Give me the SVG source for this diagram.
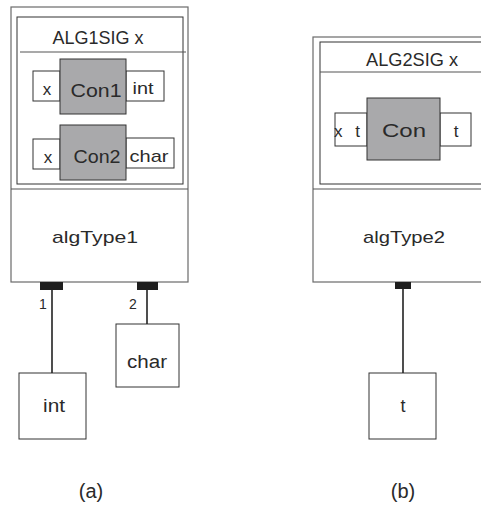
<svg xmlns="http://www.w3.org/2000/svg" width="481" height="507" viewBox="0 0 481 507">
  <style>
    .frame { fill: #ffffff; stroke: #6a6a6a; stroke-width: 1.2; }
    .box { fill: #ffffff; stroke: #333333; stroke-width: 1; }
    .con { fill: #a9a9ab; stroke: #333333; stroke-width: 1; }
    .rule { stroke: #555555; stroke-width: 1.2; fill: none; }
    .wire { stroke: #222222; stroke-width: 1.6; fill: none; }
    .stub { fill: #1e1e1e; }
    text { font-family: "Liberation Sans", "DejaVu Sans", Arial, sans-serif; fill: #2a2a2a; text-anchor: middle; }
    .t20 { font-size: 20px; }
    .t18 { font-size: 18px; }
    .t19 { font-size: 19px; }
    .t17 { font-size: 17px; }
    .t14 { font-size: 14px; }
  </style>
  <rect width="481" height="507" fill="#ffffff"/>

  <!-- (a) algebraic type with two constructors -->
  <g id="algType1">
    <rect class="frame" x="11" y="7" width="177" height="275"/>
    <line class="rule" x1="11" y1="189" x2="188" y2="189"/>
    <text class="t17" x="95" y="243" textLength="86" lengthAdjust="spacingAndGlyphs">algType1</text>
  </g>
  <g id="alg1sig">
    <rect class="box" x="17" y="17" width="166" height="167"/>
    <line class="rule" x1="20" y1="52" x2="186" y2="52"/>
    <text class="t18" x="98" y="44" textLength="91" lengthAdjust="spacingAndGlyphs">ALG1SIG x</text>
  </g>
  <g id="con1">
    <rect class="box" x="33" y="71" width="27" height="30"/>
    <rect class="box" x="126" y="71" width="38" height="30"/>
    <rect class="con" x="60" y="59" width="66" height="55"/>
    <text class="t17" x="47" y="95">x</text>
    <text class="t19" x="96" y="97" textLength="51" lengthAdjust="spacingAndGlyphs">Con1</text>
    <text class="t17" x="143" y="94" textLength="21" lengthAdjust="spacingAndGlyphs">int</text>
  </g>
  <g id="con2">
    <rect class="box" x="33" y="139" width="27" height="30"/>
    <rect class="box" x="126" y="138" width="48" height="30"/>
    <rect class="con" x="60" y="125" width="66" height="55"/>
    <text class="t17" x="48" y="163">x</text>
    <text class="t19" x="97" y="163" textLength="47" lengthAdjust="spacingAndGlyphs">Con2</text>
    <text class="t17" x="149" y="162" textLength="39" lengthAdjust="spacingAndGlyphs">char</text>
  </g>
  <g id="int">
    <rect class="box" x="19" y="373" width="67" height="66"/>
    <text class="t18" x="54" y="412" textLength="22" lengthAdjust="spacingAndGlyphs">int</text>
  </g>
  <g id="char">
    <rect class="box" x="116" y="324" width="63" height="63"/>
    <text class="t18" x="147" y="368" textLength="40" lengthAdjust="spacingAndGlyphs">char</text>
  </g>
  <text class="t20" x="91" y="498">(a)</text>

  <!-- (b) parameterised algebraic type with one constructor -->
  <g id="algType2">
    <rect class="frame" x="313" y="37" width="180" height="245"/>
    <line class="rule" x1="313" y1="189" x2="493" y2="189"/>
    <text class="t17" x="404" y="243" textLength="82" lengthAdjust="spacingAndGlyphs">algType2</text>
  </g>
  <g id="alg2sig">
    <rect class="box" x="320" y="42" width="170" height="142"/>
    <line class="rule" x1="320" y1="72" x2="490" y2="72"/>
    <text class="t18" x="412" y="66" textLength="92" lengthAdjust="spacingAndGlyphs">ALG2SIG x</text>
  </g>
  <g id="con">
    <rect class="box" x="335" y="113" width="32" height="33"/>
    <rect class="box" x="440" y="113" width="31" height="33"/>
    <rect class="con" x="367" y="98" width="73" height="62"/>
    <text class="t17" x="347" y="137" textLength="26" lengthAdjust="spacing">x t</text>
    <text class="t19" x="404" y="137" textLength="44" lengthAdjust="spacingAndGlyphs">Con</text>
    <text class="t17" x="456" y="137">t</text>
  </g>
  <g id="t">
    <rect class="box" x="369" y="373" width="67" height="66"/>
    <text class="t18" x="403" y="412">t</text>
  </g>
  <text class="t20" x="403" y="498">(b)</text>

  <!-- component links with their attachment stubs -->
  <g id="connectors">
    <rect class="stub" x="40" y="282" width="23" height="8"/>
    <line class="wire" x1="52" y1="290" x2="52" y2="373"/>
    <text class="t14" x="43" y="309">1</text>
    <rect class="stub" x="137" y="282" width="21" height="8"/>
    <line class="wire" x1="147" y1="290" x2="147" y2="324"/>
    <text class="t14" x="133" y="309">2</text>
    <rect class="stub" x="395" y="282" width="16" height="7"/>
    <line class="wire" x1="403" y1="289" x2="403" y2="373"/>
  </g>
</svg>
